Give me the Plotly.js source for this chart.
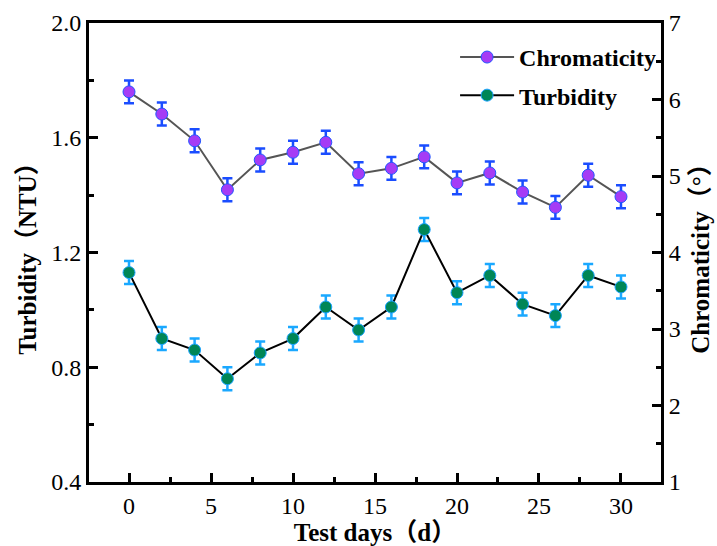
<!DOCTYPE html>
<html>
<head>
<meta charset="utf-8">
<script src="https://cdn.plot.ly/plotly-3.0.1.min.js"></script>
<style>html,body{margin:0;padding:0;background:#fff;}#chart{width:717px;height:546px;}</style>
</head>
<body>
<div id="chart"></div>
<script>
const days = [0, 2, 4, 6, 8, 10, 12, 14, 16, 18, 20, 22, 24, 26, 28, 30];
const chromaticity = [6.10, 5.81, 5.46, 4.82, 5.21, 5.31, 5.44, 5.03, 5.10, 5.25, 4.91, 5.04, 4.79, 4.59, 5.01, 4.73];
const chromaticityErr = [0.15, 0.15, 0.15, 0.15, 0.15, 0.15, 0.15, 0.15, 0.15, 0.15, 0.15, 0.15, 0.15, 0.15, 0.15, 0.15];
const turbidity = [1.13, 0.90, 0.86, 0.76, 0.85, 0.90, 1.01, 0.93, 1.01, 1.28, 1.06, 1.12, 1.02, 0.98, 1.12, 1.08];
const turbidityErr = [0.04, 0.04, 0.04, 0.04, 0.04, 0.04, 0.04, 0.04, 0.04, 0.04, 0.04, 0.04, 0.04, 0.04, 0.04, 0.04];
const xTickVals = [0, 5, 10, 15, 20, 25, 30];
const yLeftTicks = [0.4, 0.8, 1.2, 1.6, 2.0];
const yLeftTickText = ['0.4', '0.8', '1.2', '1.6', '2.0'];
const yRightTicks = [1, 2, 3, 4, 5, 6, 7];

const serif = 'Liberation Serif, Times New Roman, serif';
const titleFamily = 'Liberation Serif, Times New Roman, Noto Sans CJK SC, serif';

const traces = [
  {
    x: days, y: chromaticity, yaxis: 'y2', name: '<b>Chromaticity</b>', legend: 'legend',
    type: 'scatter', mode: 'lines+markers',
    line: {color: '#555555', width: 2},
    marker: {color: '#a53cf5', size: 12, line: {color: '#2255ff', width: 1}},
    error_y: {type: 'data', array: chromaticityErr, visible: true, color: '#1a4dff', thickness: 2.5, width: 5}
  },
  {
    x: days, y: turbidity, yaxis: 'y', name: '<b>Turbidity</b>', legend: 'legend2',
    type: 'scatter', mode: 'lines+markers',
    line: {color: '#000000', width: 2},
    marker: {color: '#008656', size: 12, line: {color: '#1aa3ff', width: 1}},
    error_y: {type: 'data', array: turbidityErr, visible: true, color: '#1aa8ff', thickness: 2.5, width: 5}
  }
];

const axisCommon = {
  showline: true, linecolor: '#000', linewidth: 3,
  ticks: 'inside', ticklen: 9, tickwidth: 3, tickcolor: '#000',
  showgrid: false, zeroline: false,
  tickfont: {family: serif, size: 24, color: '#000'}
};

const titleFont = {family: titleFamily, size: 25, color: '#000'};

const layout = {
  width: 717, height: 546,
  margin: {l: 89, r: 56, t: 23, b: 64},
  paper_bgcolor: '#fff', plot_bgcolor: '#fff',
  font: {family: serif, color: '#000'},
  showlegend: true,
  xaxis: Object.assign({}, axisCommon, {
    range: [-2.44, 32.44], tickmode: 'array', tickvals: xTickVals, mirror: true,
    minor: {dtick: 2.5, tick0: 0, ticks: 'inside', ticklen: 5, tickwidth: 3, tickcolor: '#000'},
    title: {text: '<b>Test days（d）</b>', font: titleFont, standoff: 4}
  }),
  yaxis: Object.assign({}, axisCommon, {
    range: [0.4, 2.0], tickmode: 'array', tickvals: yLeftTicks, ticktext: yLeftTickText,
    minor: {dtick: 0.2, tick0: 0.4, ticks: 'inside', ticklen: 5, tickwidth: 3, tickcolor: '#000'},
    title: {text: '<b>Turbidity（NTU）</b>', font: titleFont, standoff: 8}
  }),
  yaxis2: Object.assign({}, axisCommon, {
    overlaying: 'y', side: 'right',
    range: [1, 7], tickmode: 'array', tickvals: yRightTicks,
    minor: {dtick: 0.5, tick0: 1, ticks: 'inside', ticklen: 5, tickwidth: 3, tickcolor: '#000'},
    title: {text: '<b>Chromaticity（°）</b>', font: titleFont, standoff: 12}
  }),
  legend: {x: 0.64, y: 0.974, xanchor: 'left', yanchor: 'top', bgcolor: 'rgba(0,0,0,0)', itemwidth: 54,
    font: {family: serif, size: 24, color: '#000'}},
  legend2: {x: 0.64, y: 0.891, xanchor: 'left', yanchor: 'top', bgcolor: 'rgba(0,0,0,0)', itemwidth: 54,
    font: {family: serif, size: 24, color: '#000'}}
};

Plotly.newPlot('chart', traces, layout, {displayModeBar: false, staticPlot: true});
</script>
</body>
</html>
